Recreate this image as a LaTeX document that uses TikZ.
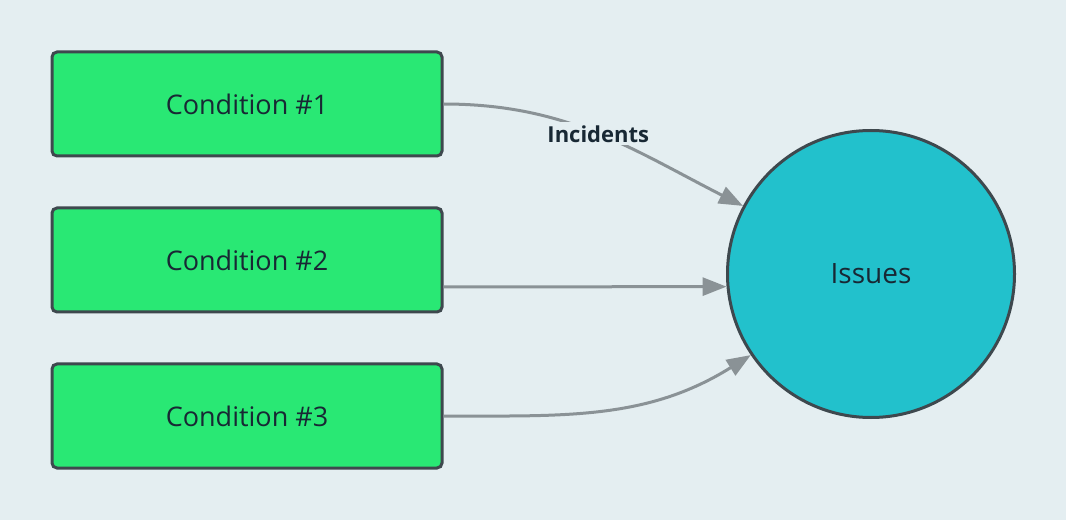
\documentclass[tikz,border=0pt]{standalone}
\usepackage{fontspec}
\setmainfont{Open Sans}
\usetikzlibrary{arrows.meta}
\definecolor{bgcol}{RGB}{228,238,241}
\definecolor{condgreen}{RGB}{41,232,116}
\definecolor{issuecyan}{RGB}{34,193,204}
\definecolor{edgegray}{RGB}{62,72,78}
\definecolor{arrowgray}{RGB}{138,146,150}
\definecolor{textdark}{RGB}{24,40,52}
\begin{document}
\begin{tikzpicture}[x=1pt,y=1pt,
    condition/.style={draw=edgegray, fill=condgreen, line width=3pt, rounded corners=5pt,
      minimum width=390pt, minimum height=104pt, font=\fontsize{27}{30}\selectfont, text=textdark},
    issue/.style={circle, draw=edgegray, fill=issuecyan, line width=3pt,
      minimum size=287pt, font=\fontsize{28}{30}\selectfont, text=textdark},
    link/.style={draw=arrowgray, line width=3pt, -{Triangle[length=24pt,width=18pt]}}
  ]
  \fill[bgcol] (0,0) rectangle (1066,520);
  \useasboundingbox (0,0) rectangle (1066,520);
  % Conditions
  \node[condition] (cond1) at (247,416) {Condition \#1};
  \node[condition] (cond2) at (247,260) {Condition \#2};
  \node[condition] (cond3) at (247,104) {Condition \#3};
  %
  \node[issue] (issues) at (871,246) {Issues};
  %
  \draw[link] (cond1.east) to[out=0,in=153]
    node[pos=0.5, fill=bgcol, inner sep=3pt, text=textdark, font=\fontsize{22}{24}\selectfont\bfseries] {Incidents}
    (issues.152);
  \draw[link] ([yshift=-27pt]cond2.east) to[out=0,in=180] (issues.185);
  \draw[link] (cond3.east) to[out=0,in=212] (issues.214);
\end{tikzpicture}
\end{document}
